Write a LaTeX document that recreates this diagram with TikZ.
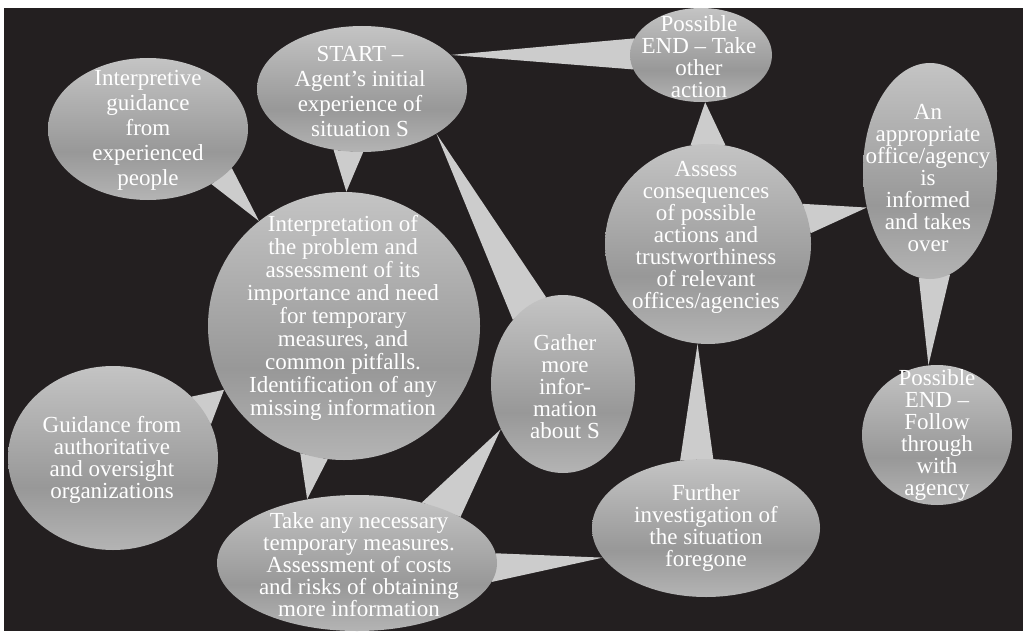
\documentclass[tikz,border=0pt]{standalone}
\usepackage{fontspec}
\setmainfont{Liberation Serif}
\usetikzlibrary{shapes.geometric}
\definecolor{bgblack}{HTML}{231F20}
\definecolor{btop}{HTML}{C4C4C4}
\definecolor{bmid}{HTML}{989898}
\definecolor{bbot}{HTML}{B4B4B4}
\definecolor{wedgecol}{HTML}{CCCCCC}
\pgfdeclareverticalshading{bubble}{100bp}{color(0bp)=(bbot); color(25bp)=(bbot); color(42bp)=(bmid); color(75bp)=(btop); color(100bp)=(btop)}
\pgfdeclarelayer{back}
\pgfdeclarelayer{wedges}
\pgfsetlayers{back,wedges,main}
\begin{document}
\begin{tikzpicture}[x=0.75pt,y=-0.75pt,
  bub/.style 2 args={ellipse, shading=bubble, minimum width=#1*1.5pt, minimum height=#2*1.5pt, inner sep=0pt},
  txt/.style={align=center, text=white, font=\fontsize{17.25}{16.5}\selectfont, inner sep=0pt},
  txtm/.style={align=center, text=white, font=\fontsize{17.25}{17.3}\selectfont, inner sep=0pt},
  txtw/.style={align=center, text=white, font=\fontsize{17.25}{18.75}\selectfont, inner sep=0pt},
  wedge/.style={fill=wedgecol, draw=none}]
\useasboundingbox (0,0) rectangle (1023,631);
\begin{pgfonlayer}{back}
  \fill[white] (0,0) rectangle (1023,631);
  \fill[bgblack] (4,8) rectangle (1023,631);
\end{pgfonlayer}

% bubbles
\node[bub={100}{71}]  (G1) at (148,129) {};
\node[bub={105}{63}]  (ST) at (362,89) {};
\node[bub={71}{47}]   (E1) at (701,55) {};
\node[bub={136}{134}] (IN) at (344,326) {};
\node[bub={72}{89}]   (GA) at (563,384) {};
\node[bub={103}{100}] (AS) at (708,244) {};
\node[bub={67}{108}]  (AP) at (930,171) {};
\node[bub={75}{70}]   (FO) at (937,435) {};
\node[bub={105}{92}]  (GU) at (113,458) {};
\node[bub={140}{68}]  (TK) at (357,563) {};
\node[bub={114}{69}]  (FU) at (706,528) {};

% texts
\node[txtw] (G1t) at (148,130) {Interpretive\\guidance\\from\\experienced\\people};
\node[txtw] (STt) at (360,91) {START –\\Agent’s initial\\experience of\\situation S};
\node[txt]  (E1t) at (699,57) {Possible\\END – Take\\other\\action};
\node[txtm] (INt) at (343,318) {Interpretation of\\the problem and\\assessment of its\\importance and need\\for temporary\\measures, and\\common pitfalls.\\Identification of any\\missing information};
\node[txt]  (GAt) at (565,387) {Gather\\more\\infor-\\mation\\about S};
\node[txt]  (ASt) at (706,237) {Assess\\consequences\\of possible\\actions and\\trustworthiness\\of relevant\\offices/agencies};
\node[txt]  (APt) at (928,178) {An\\appropriate\\office/agency\\is\\informed\\and takes\\over};
\node[txt]  (FOt) at (937,435) {Possible\\END –\\Follow\\through\\with\\agency};
\node[txt]  (GUt) at (112,460) {Guidance from\\authoritative\\and oversight\\organizations};
\node[txt]  (TKt) at (359,565) {Take any necessary\\temporary measures.\\Assessment of costs\\and risks of obtaining\\more information};
\node[txt]  (FUt) at (706,528) {Further\\investigation of\\the situation\\foregone};

% wedges
\begin{pgfonlayer}{wedges}
  \fill[wedge] (G1.-41.7) -- (G1.-25.6) -- (IN.129) -- cycle;
  \fill[wedge] (ST.-115.6) -- (ST.-89) -- (IN.89) -- cycle;
  \fill[wedge] (GA.128.5) -- (GA.101.7) -- (ST.-31.8) -- cycle;
  \fill[wedge] (E1.166.2) -- (E1.192.3) -- (ST.21.2) -- cycle;
  \fill[wedge] (AS.100.8) -- (AS.80.9) -- (E1.-85) -- cycle;
  \fill[wedge] (AS.23.7) -- (AS.6.2) -- (AP.210.2) -- cycle;
  \fill[wedge] (AP.-96.4) -- (AP.-79) -- (FO.97.1) -- cycle;
  \fill[wedge] (FU.111.5) -- (FU.84) -- (AS.-96.9) -- cycle;
  \fill[wedge] (GU.38.4) -- (GU.19.1) -- (IN.208.7) -- cycle;
  \fill[wedge] (IN.-109) -- (IN.-97.7) -- (TK.128) -- cycle;
  \fill[wedge] (TK.43.8) -- (TK.24) -- (GA.216) -- cycle;
  \fill[wedge] (TK.4.2) -- (TK.-8.9) -- (FU.196.8) -- cycle;
\end{pgfonlayer}
\end{tikzpicture}
\end{document}
